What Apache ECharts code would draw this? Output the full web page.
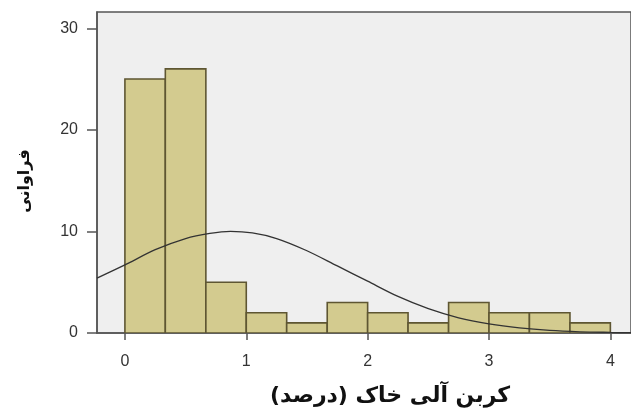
<!DOCTYPE html>
<html>
<head>
<meta charset="utf-8">
<script src="https://cdn.jsdelivr.net/npm/echarts@6/dist/echarts.min.js"></script>
<style>
html,body{margin:0;padding:0;background:#fff;}
#c{width:631px;height:408px;}
</style>
</head>
<body>
<div id="c"></div>
<script>
// Histogram bin edges (x, percent organic carbon) and frequencies
const binEdges = [0, 0.333, 0.667, 1, 1.333, 1.667, 2, 2.333, 2.667, 3, 3.333, 3.667, 4];
const counts = [25, 26, 5, 2, 1, 3, 2, 1, 3, 2, 2, 1];
// Fitted curve
const curveX = [-0.23, 0, 0.25, 0.5, 0.7, 0.87, 1.05, 1.25, 1.5, 1.75, 2, 2.25, 2.5, 2.75, 3, 3.25, 3.5, 3.75, 4, 4.17];
const curveY = [5.4, 6.7, 8.2, 9.3, 9.8, 10.0, 9.85, 9.3, 8.1, 6.6, 5.1, 3.6, 2.4, 1.5, 0.9, 0.5, 0.25, 0.12, 0.06, 0.03];
const xTicks = [0, 1, 2, 3, 4];
const yTicks = [0, 10, 20, 30];
const xTitle = 'کربن آلی خاک (درصد)';
const yTitle = 'فراوانی';

const barData = counts.map((c, i) => [binEdges[i], binEdges[i + 1], c]);
const lineData = curveX.map((x, i) => [x, curveY[i]]);

const chart = echarts.init(document.getElementById('c'), null, {renderer: 'canvas'});
chart.setOption({
  animation: false,
  backgroundColor: '#ffffff',
  grid: {
    left: 97, right: 0, top: 12, bottom: 75,
    show: true, backgroundColor: '#efefef', borderColor: '#555', borderWidth: 1.5,
    outerBoundsMode: 'none'
  },
  graphic: [
    {
      type: 'text', x: 390, y: 396,
      style: {text: xTitle, fontSize: 22, fontWeight: 'bold', fill: '#111', fontFamily: 'DejaVu Sans', align: 'center', verticalAlign: 'middle'}
    },
    {
      type: 'text', x: 25, y: 181, rotation: Math.PI / 2,
      style: {text: yTitle, fontSize: 16, fontWeight: 'bold', fill: '#111', fontFamily: 'DejaVu Sans', align: 'center', verticalAlign: 'middle'}
    }
  ],
  xAxis: {
    type: 'value', min: -0.23, max: 4.17,
    axisLine: {show: true, onZero: false, lineStyle: {color: '#555', width: 1.5}},
    axisTick: {show: true, inside: false, length: 7, customValues: xTicks, lineStyle: {color: '#555', width: 1.5}},
    axisLabel: {show: true, customValues: xTicks, margin: 21, fontSize: 16, color: '#333', fontFamily: 'Liberation Sans, Arial'},
    splitLine: {show: false}
  },
  yAxis: {
    type: 'value', min: 0, max: 31.6,
    axisLine: {show: true, onZero: false, lineStyle: {color: '#555', width: 1.5}},
    axisTick: {show: true, inside: false, length: 10, customValues: yTicks, lineStyle: {color: '#555', width: 1.5}},
    axisLabel: {show: true, customValues: yTicks, margin: 19, fontSize: 16, color: '#333', fontFamily: 'Liberation Sans, Arial'},
    splitLine: {show: false}
  },
  series: [
    {
      type: 'custom',
      data: barData,
      encode: {x: [0, 1], y: 2},
      clip: true,
      renderItem: function (params, api) {
        const p0 = api.coord([api.value(0), api.value(2)]);
        const p1 = api.coord([api.value(1), 0]);
        return {
          type: 'rect',
          shape: {x: p0[0], y: p0[1], width: p1[0] - p0[0], height: p1[1] - p0[1]},
          style: {fill: '#d3cb8f', stroke: '#5e5632', lineWidth: 1.6}
        };
      }
    },
    {
      type: 'line',
      data: lineData,
      smooth: 0.3,
      showSymbol: false,
      clip: true,
      lineStyle: {color: '#333', width: 1.3},
      z: 5
    }
  ]
});
</script>
</body>
</html>
